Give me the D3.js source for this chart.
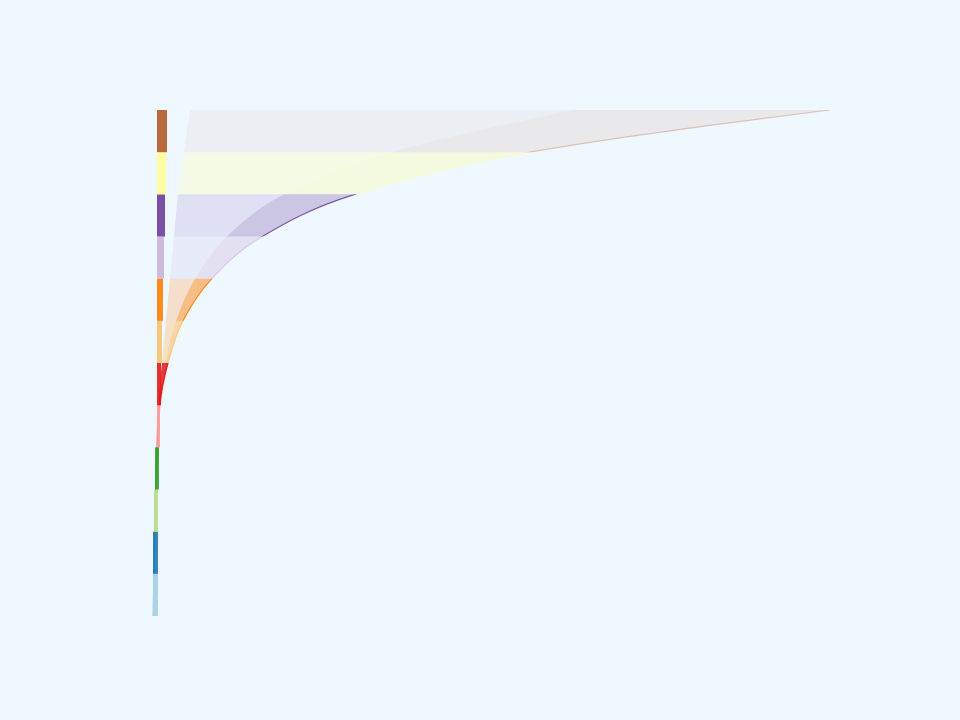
<!DOCTYPE html>
<html>
<head>
<meta charset="utf-8">
<script src="https://cdn.jsdelivr.net/npm/d3@7"></script>
<style>
  body { margin: 0; background: #f0f8ff; }
  svg { display: block; }
</style>
</head>
<body>
<svg id="chart" width="960" height="720"></svg>
<script>
// categories, bottom to top
const categories = ["Light blue", "Blue", "Light green", "Green", "Pink", "Red",
  "Light orange", "Orange", "Light purple", "Purple", "Yellow", "Brown"];
// curve value at each band boundary (bottom of first band ... top of last band)
const edge = [0.44, 0.59, 0.74, 0.88, 1.18, 1.47, 2.65, 4.85, 9.1, 16.5, 30.1, 55.9, 100];
// where the fan of lines begins at each boundary
const fanStart = [0.44, 0.59, 0.66, 0.74, 0.88, 1.18, 1.76, 2.35, 2.94, 3.53, 4.12, 5.0, 5.88];
// left strip extent per category
const stripLo = [0.44, 0.44, 0.59, 0.74, 1.03, 1.03, 1.03, 1.03, 1.03, 1.03, 1.03, 1.03];
const stripHi = [1.18, 1.18, 1.18, 1.32, 1.47, 1.62, 1.76, 1.91, 2.06, 2.21, 2.35, 2.5];

// fan opacity: body, wedge near the curve, curve stroke (style only)
const baseAlpha = [0.8, 0.8, 0.8, 0.8, 0.8, 0.85, 0.4, 0.2, 0.18, 0.12, 0.25, 0.06];
const wedgeAlpha = [0, 0, 0, 0, 0, 0.2, 0.35, 0.35, 0.18, 0.16, 0.08, 0.03];
const edgeAlpha = [0.9, 0.9, 0.9, 0.9, 0.9, 0.9, 0.85, 0.9, 0.6, 0.85, 0.4, 0.3];

const svg = d3.select("#chart"),
  width = 960,
  height = 720;

const x = d3.scaleLinear().domain([0, 100]).range([150, 830]);
const y = d3.scaleBand().domain(categories).range([616, 110]);
const color = d3.scaleOrdinal().domain(categories).range(d3.schemePaired);

// y position of each boundary
const boundaryY = edge.map((d, j) =>
  j < categories.length ? y(categories[j]) + y.bandwidth() : y(categories[categories.length - 1]));

const pts = edge.map((d, j) => ({ y: boundaryY[j], x0: fanStart[j], x1: d }));

const area = d3.area()
  .curve(d3.curveMonotoneY)
  .y((d) => d.y)
  .x0((d) => x(d.x0))
  .x1((d) => x(d.x1));
// the part of the fan closest to the curve, where lines pile up
const wedge = d3.area()
  .curve(d3.curveMonotoneY)
  .y((d) => d.y)
  .x0((d) => x(d.x0 + 0.6 * (d.x1 - d.x0)))
  .x1((d) => x(d.x1));
const edgeLine = d3.line()
  .curve(d3.curveMonotoneY)
  .y((d) => d.y)
  .x((d) => x(d.x1));

const defs = svg.append("defs");
categories.forEach((c, i) => {
  defs.append("clipPath")
    .attr("id", "clip" + i)
    .append("rect")
    .attr("x", 0)
    .attr("width", width)
    .attr("y", y(c))
    .attr("height", y.bandwidth());
});

// fans
const fans = svg.append("g");
categories.forEach((c, i) => {
  const g = fans.append("g").attr("clip-path", "url(#clip" + i + ")");
  g.append("path")
    .attr("fill", color(c))
    .attr("fill-opacity", baseAlpha[i])
    .attr("d", area(pts));
  g.append("path")
    .attr("fill", color(c))
    .attr("fill-opacity", wedgeAlpha[i])
    .attr("d", wedge(pts));
  g.append("path")
    .attr("fill", "none")
    .attr("stroke", color(c))
    .attr("stroke-opacity", edgeAlpha[i])
    .attr("stroke-width", 1.2)
    .attr("d", edgeLine(pts));
});

// strips on the left
svg.append("g")
  .selectAll("rect")
  .data(categories)
  .enter()
  .append("rect")
  .attr("x", (d, i) => x(stripLo[i]))
  .attr("width", (d, i) => x(stripHi[i]) - x(stripLo[i]))
  .attr("y", (d) => y(d))
  .attr("height", y.bandwidth())
  .attr("fill", (d) => color(d))
  .attr("fill-opacity", 0.9);
</script>
</body>
</html>
